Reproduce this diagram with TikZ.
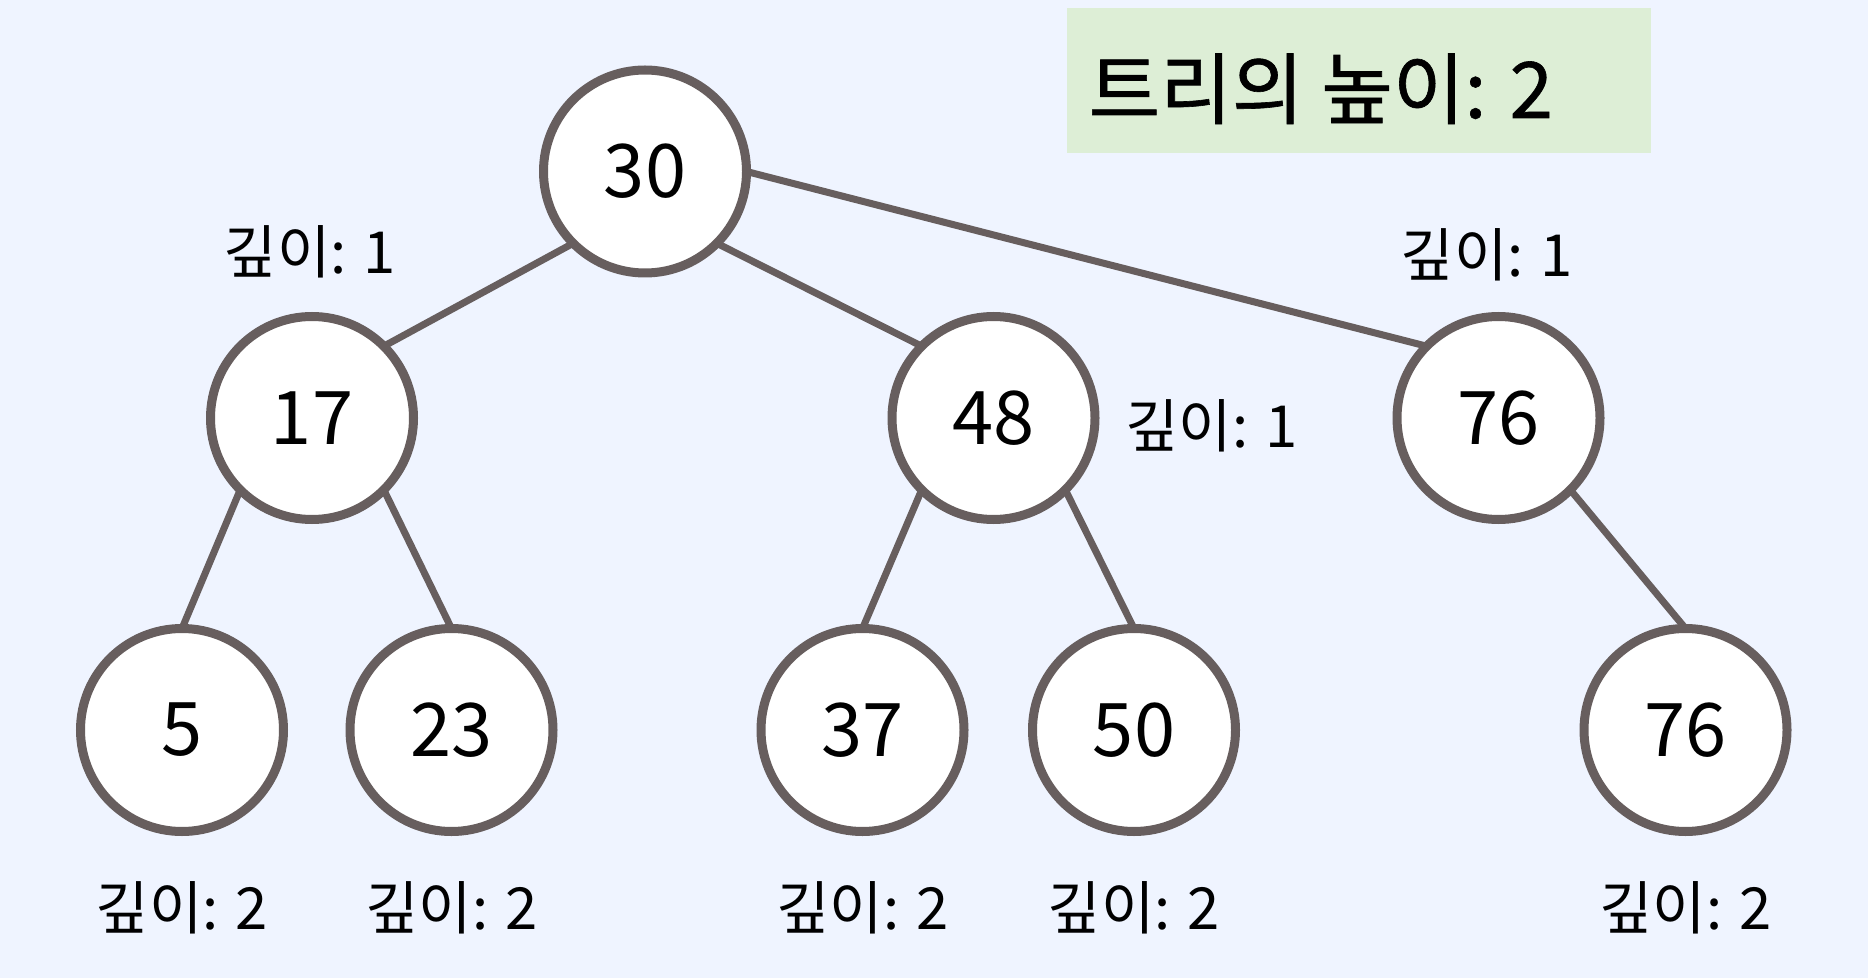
\documentclass[tikz,border=0pt]{standalone}
\usepackage{fontspec}
\setmainfont{Noto Sans CJK KR}
\newfontfamily\krbold[FakeBold=0.8]{Noto Sans CJK KR}
\definecolor{bgc}{HTML}{EFF4FF}
\definecolor{boxc}{HTML}{DDEED6}
\definecolor{strokec}{HTML}{675E5E}
\begin{document}
\begin{tikzpicture}[x=0.5pt,y=-0.5pt,
  tnode/.style={circle,draw=strokec,line width=4.5pt,fill=white,minimum size=101.5pt,inner sep=0pt,outer sep=0pt,font=\fontsize{37}{44}\selectfont},
  edge/.style={draw=strokec,line width=3.5pt},
  depthlbl/.style={font=\fontsize{29}{34}\selectfont,inner sep=0pt}]
\fill[bgc] (0,0) rectangle (1868,978);
\useasboundingbox (0,0) rectangle (1868,978);
\fill[boxc] (1067,8) rectangle (1651,153);
\node[anchor=base west,inner sep=0pt,font=\krbold\fontsize{39}{46}\selectfont] (title) at (1088,118) {트리의 높이: 2};
\node[tnode] (n30) at (645,171.5) {30};
\node[tnode] (n17) at (312,418) {17};
\node[tnode] (n48) at (993.5,418) {48};
\node[tnode] (n76) at (1498.5,418) {76};
\node[tnode] (n5) at (182,730) {5};
\node[tnode] (n23) at (451.5,730) {23};
\node[tnode] (n37) at (862.5,730) {37};
\node[tnode] (n50) at (1134,730) {50};
\node[tnode] (n76b) at (1685.5,730) {76};
\draw[edge] (n30.south west) -- (n17.north east);
\draw[edge] (n30.south east) -- (n48.north west);
\draw[edge] (n30.east) -- (n76.north west);
\draw[edge] (n17.south west) -- (n5.north);
\draw[edge] (n17.south east) -- (n23.north);
\draw[edge] (n48.south west) -- (n37.north);
\draw[edge] (n48.south east) -- (n50.north);
\draw[edge] (n76.south east) -- (n76b.north);
\node[depthlbl] (l17) at (310,252) {깊이: 1};
\node[depthlbl] (l76) at (1487,255) {깊이: 1};
\node[depthlbl] (l48) at (1211.5,426) {깊이: 1};
\node[depthlbl] (l5) at (182,908) {깊이: 2};
\node[depthlbl] (l23) at (451.5,908) {깊이: 2};
\node[depthlbl] (l37) at (862.5,908) {깊이: 2};
\node[depthlbl] (l50) at (1134,908) {깊이: 2};
\node[depthlbl] (l76b) at (1685.5,908) {깊이: 2};
\end{tikzpicture}
\end{document}
